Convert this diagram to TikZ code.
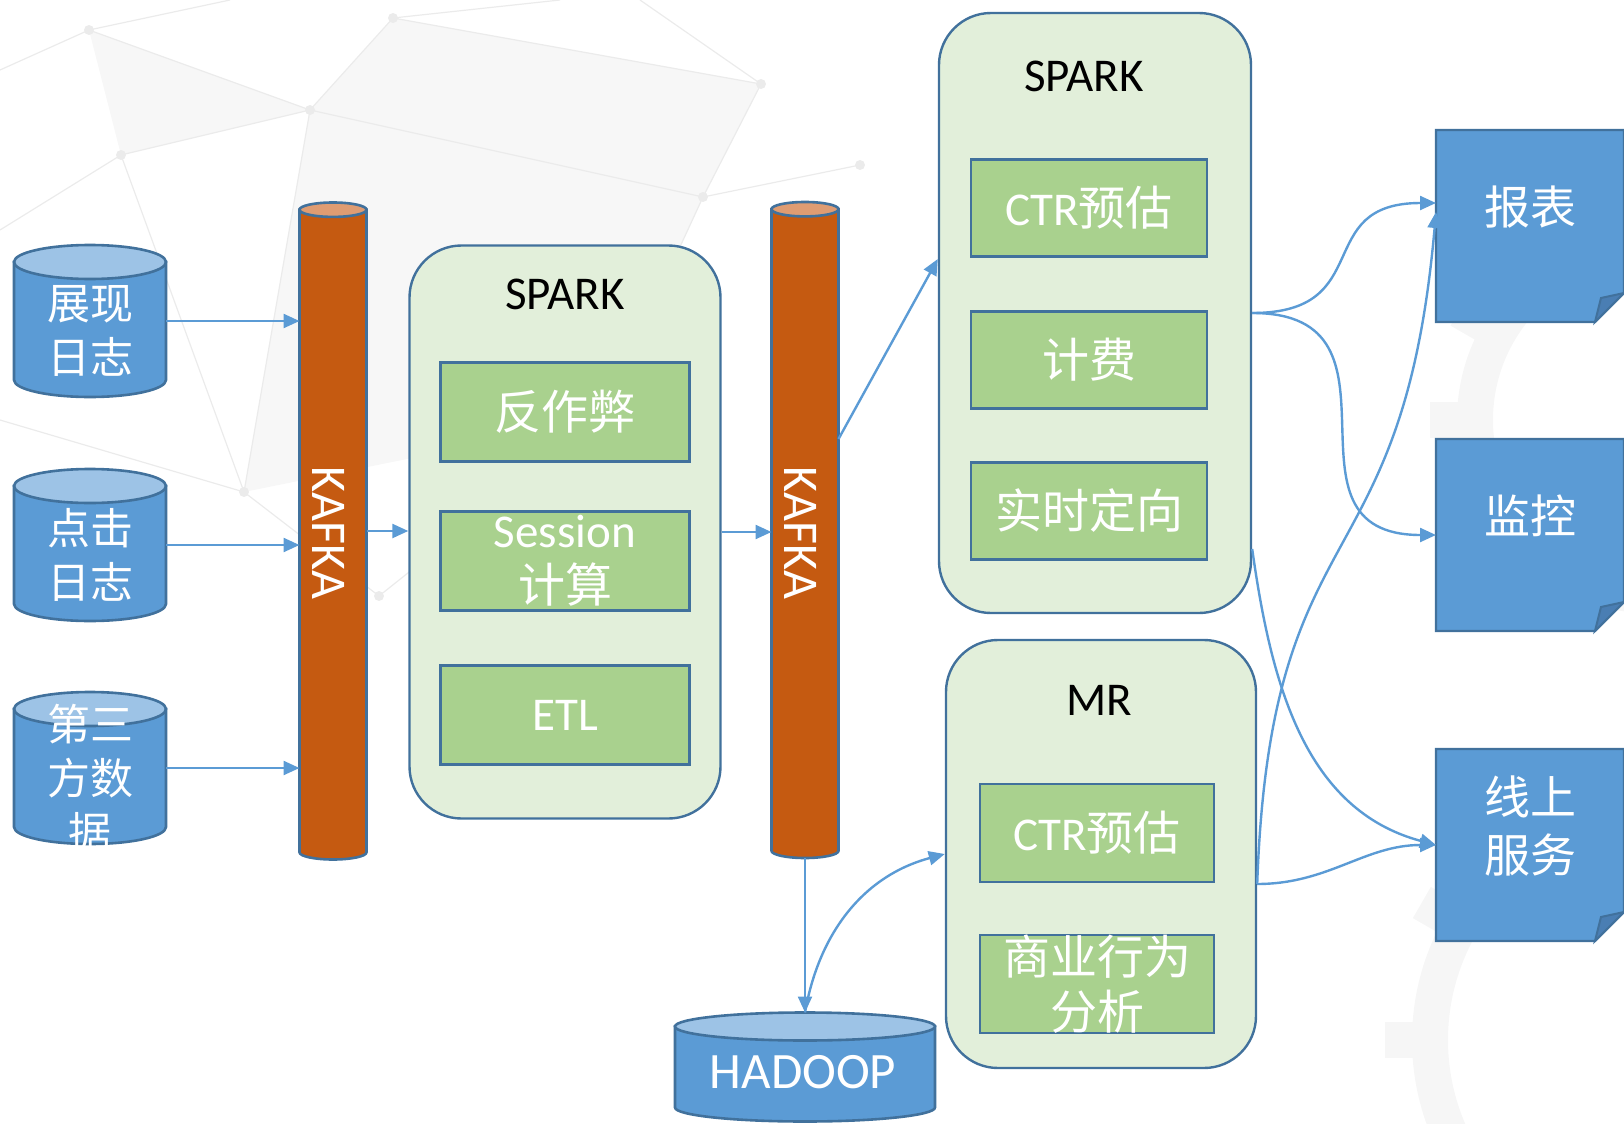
\documentclass[tikz,border=0pt]{standalone}
\usepackage{fontspec}
\setmainfont{Carlito}
\newfontfamily\cjk{Noto Sans CJK SC}
\usepackage{tikz}
\usetikzlibrary{positioning}
\usetikzlibrary{backgrounds}
\usetikzlibrary{arrows.meta}
\usetikzlibrary{calc}

\definecolor{boxline}{HTML}{41719C}
\definecolor{dbblue}{HTML}{5B9BD5}
\definecolor{dbtop}{HTML}{9DC3E6}
\definecolor{kafkabody}{HTML}{C55A11}
\definecolor{kafkatop}{HTML}{DF9C72}
\definecolor{enginebg}{HTML}{E2EFDA}
\definecolor{taskgreen}{HTML}{A9D18E}
\definecolor{flowblue}{HTML}{5B9BD5}
\definecolor{folddark}{HTML}{4A7EB3}
\definecolor{netgray}{HTML}{EBEBEB}
\definecolor{netfill}{HTML}{F7F7F7}
\definecolor{gearbg}{HTML}{F6F6F6}

\begin{document}
\begin{tikzpicture}[x=0.5pt,y=-0.5pt]
\tikzstyle{drum}=[rectangle, inner sep=0pt, outer sep=0pt]
\tikzstyle{engine}=[rectangle, rounded corners=26pt, draw=boxline, fill=enginebg, line width=1.2pt]
\tikzstyle{task}=[rectangle, draw=boxline, fill=taskgreen, line width=1.2pt, text=white, align=center, inner sep=0pt, font=\fontsize{23.5}{27.5}\selectfont]
\tikzstyle{enginetitle}=[font=\fontsize{23.5}{27}\selectfont]
\tikzstyle{dbtext}=[text=white, align=center, font=\cjk\fontsize{21.5}{27}\selectfont]
\tikzstyle{kafkatext}=[text=white, rotate=-90, font=\fontsize{25}{25}\selectfont]
\tikzstyle{outbox}=[rectangle, minimum width=94pt, minimum height=96pt, inner sep=0pt, outer sep=0pt]
\tikzstyle{outlabel}=[text=white, align=center, yshift=9.5pt, font=\cjk\fontsize{23}{29}\selectfont]
\tikzstyle{flow}=[draw=flowblue, line width=1.2pt, -{Triangle[length=8pt,width=7pt]}]

\useasboundingbox (0,0) rectangle (1624,1124);

% faint backdrop
\begin{scope}[on background layer]
\fill[netfill] (89,30) -- (310,110) -- (121,155) -- cycle;
\fill[netfill] (310,110) -- (703,197) -- (600,420) -- (244,492) -- cycle;
\fill[netfill] (393,18) -- (761,84) -- (703,197) -- (310,110) -- cycle;
\draw[netgray, line width=0.6pt] (0,70) -- (89,30) -- (230,0) (89,30) -- (310,110) -- (393,18) -- (560,0)
  (310,110) -- (121,155) -- (0,230) (121,155) -- (244,492) -- (0,420) (310,110) -- (703,197) -- (761,84) -- (640,0)
  (703,197) -- (860,165) (393,18) -- (761,84) (244,492) -- (379,596) -- (600,420) -- (703,197) (310,110) -- (244,492);
\foreach \p in {(89,30),(310,110),(393,18),(121,155),(703,197),(860,165),(761,84),(244,492),(379,596)}
  \fill[netgray] \p circle (5);
\foreach \cx/\cy/\r in {1650/420/175, 1660/1040/230} {
  \draw[gearbg, line width=18pt] (\cx,\cy) circle (\r);
  \foreach \a in {0,30,...,330}
    \fill[gearbg, shift={(\cx,\cy)}, rotate=\a] (-18,\r) rectangle (18,\r+45);
}
\end{scope}

% sources
\node[drum, minimum width=76pt, minimum height=76pt] (src1) at (90,321) {};
\node[drum, minimum width=76pt, minimum height=76pt] (src2) at (90,545) {};
\node[drum, minimum width=76pt, minimum height=76pt] (src3) at (90,768) {};
\node[dbtext] (src1text) at ($(src1)+(0,10)$) {展现\\日志};
\node[dbtext] (src2text) at ($(src2)+(0,10)$) {点击\\日志};
\node[dbtext] (src3text) at ($(src3)+(0,10)$) {第三\\方数\\据};

% queues
\node[drum, minimum width=33.5pt, minimum height=328.5pt] (kafka1) at (333,531) {};
\node[drum, minimum width=33.5pt, minimum height=328pt] (kafka2) at (805,530) {};
\node[kafkatext] (kafka1text) at (329,533) {KAFKA};
\node[kafkatext] (kafka2text) at (801,533) {KAFKA};

% storage
\node[drum, minimum width=130pt, minimum height=54.5pt] (hdfs) at (805,1067) {};
\node[text=white, font=\fontsize{25.5}{25.5}\selectfont] (hdfstext) at (803,1072) {HADOOP};

\begin{scope}[on background layer]
\foreach \c/\w/\ry/\body/\top in {src1/38pt/8.5pt/dbblue/dbtop, src2/38pt/8.5pt/dbblue/dbtop, src3/38pt/8.5pt/dbblue/dbtop,
    kafka1/16.75pt/3.6pt/kafkabody/kafkatop, kafka2/16.75pt/3.6pt/kafkabody/kafkatop, hdfs/65pt/7pt/dbblue/dbtop} {
  \filldraw[fill=\body, draw=boxline, line width=1.3pt] ([yshift=-\ry]\c.north west) -- ([yshift=\ry]\c.south west)
    arc[start angle=180, end angle=360, x radius=\w, y radius=\ry] -- ([yshift=-\ry]\c.north east) -- cycle;
  \filldraw[fill=\top, draw=boxline, line width=1.3pt] ([yshift=-\ry]\c.north) ellipse [x radius=\w, y radius=\ry];
}
\end{scope}

% first spark
\node[engine, minimum width=155.5pt, minimum height=286.5pt] (spark1) at (565,532) {};
\node[enginetitle] (spark1title) at ($(spark1.north)+(0,50)$) {SPARK};
\node[task, minimum width=124.5pt, minimum height=49.5pt] (antispam) at (565,412) {{\cjk 反作弊}};
\node[task, minimum width=124.5pt, minimum height=49.5pt] (session) at (565,561) {Session\\{\cjk 计算}};
\node[task, minimum width=124.5pt, minimum height=49.5pt] (etl) at (565,715) {ETL};

% second spark
\node[engine, minimum width=156pt, minimum height=300pt] (spark2) at (1095,313) {};
\node[enginetitle] (spark2title) at ($(spark2.north)+(-11,65)$) {SPARK};
\node[task, minimum width=118pt, minimum height=48.5pt] (ctr1) at (1089,208) {CTR{\cjk 预估}};
\node[task, minimum width=118pt, minimum height=48.5pt] (billing) at (1089,360) {{\cjk 计费}};
\node[task, minimum width=118pt, minimum height=48.5pt] (target) at (1089,511) {{\cjk 实时定向}};

% mapreduce
\node[engine, minimum width=155pt, minimum height=214pt] (mr) at (1101,854) {};
\node[enginetitle] (mrtitle) at ($(mr.north)+(-2,62)$) {MR};
\node[task, minimum width=117pt, minimum height=49pt] (ctr2) at (1097,833) {CTR{\cjk 预估}};
\node[task, minimum width=117pt, minimum height=49pt] (bizana) at (1097,984) {{\cjk 商业行为}\\{\cjk 分析}};

% outputs
\node[outbox, label={[outlabel]center:报表}] (report) at (1530,226) {};
\node[outbox, label={[outlabel]center:监控}] (monitor) at (1530,535) {};
\node[outbox, label={[outlabel]center:线上\\服务}] (online) at (1530,845) {};
\begin{scope}[on background layer]
\foreach \b in {report,monitor,online} {
  \filldraw[fill=dbblue, draw=boxline, line width=1.2pt] (\b.north west) -- (\b.north east) -- ([yshift=14.5pt]\b.south east)
    -- ([xshift=-14.5pt]\b.south east) -- (\b.south west) -- cycle;
  \filldraw[fill=folddark, draw=boxline, line width=1pt] ([xshift=-14.5pt]\b.south east) -- ([xshift=-11.5pt,yshift=12pt]\b.south east)
    -- ([yshift=14.5pt]\b.south east) -- cycle;
}
\end{scope}

% connectors
\foreach \s in {src1,src2,src3}
  \draw[flow] (\s.east) -- (\s.east -| kafka1.west);
\draw[flow] (kafka1.east) -- (kafka1.east -| spark1.west);
\draw[flow] (spark1.east) -- (spark1.east -| kafka2.west);
\draw[flow] ([yshift=45.5pt]kafka2.east) -- ([yshift=27pt]spark2.west);
\draw[flow] (kafka2.south) -- (hdfs.north);
\draw[flow] (hdfs.north) to[out=80,in=195] (mr.west);
\draw[flow] (spark2.east) to[out=0,in=180,looseness=1.5] ([yshift=11.5pt]report.west);
\draw[flow] (spark2.east) to[out=0,in=180,looseness=1.5] (monitor.west);
\draw[flow] ([yshift=-118pt]spark2.east) to[out=-82,in=165] (online.west);
\draw[flow] ([yshift=-15pt]mr.east) to[out=88,in=-95,looseness=1.4] ([yshift=7pt]report.west);
\draw[flow] ([yshift=-15pt]mr.east) to[out=0,in=180] (online.west);
\end{tikzpicture}
\end{document}
